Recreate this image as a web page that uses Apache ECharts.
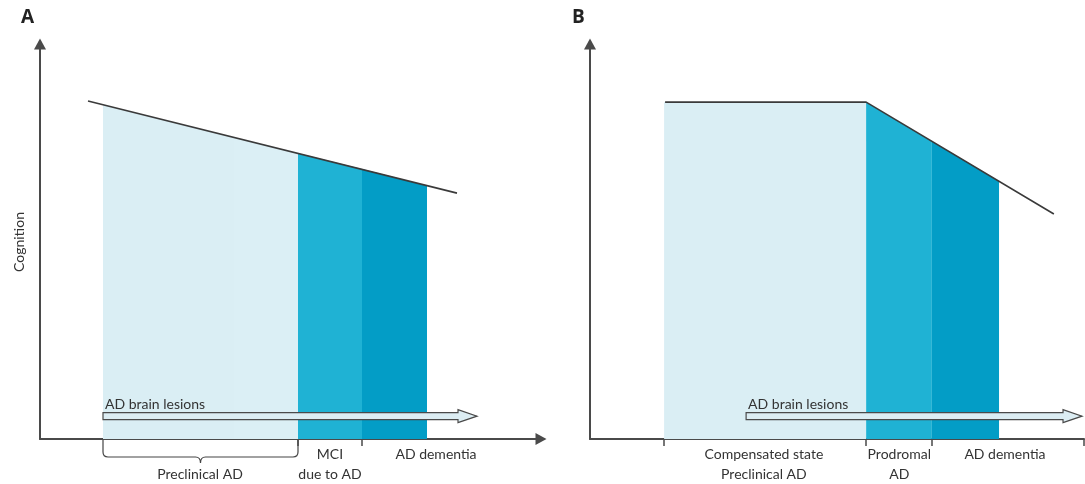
<!DOCTYPE html>
<html>
<head>
<meta charset="utf-8">
<script src="https://cdn.jsdelivr.net/npm/echarts@6/dist/echarts.min.js"></script>
<style>
html,body{margin:0;padding:0;background:#fff;}
#chart{width:1085px;height:484px;}
</style>
</head>
<body>
<div id="chart"></div>
<script>
// ---------- DATA (x: disease course 0-100, y: cognition 0-100) ----------
// Panel A
const aCognitionLine = [[9.6, 85.8], [83.4, 62.4]];
const aSegPreclin1 = [[12.6, 84.8], [38.8, 76.5]];
const aSegPreclin2 = [[38.8, 76.5], [51.6, 72.5]];
const aSegMCI = [[51.6, 72.5], [64.4, 68.5]];
const aSegDementia = [[64.4, 68.5], [77.4, 64.3]];
const aLesionArrow = [[12.6, 87.4, 5.8]];
const aBrace = [[12.6, 51.6]];
const aTicks = [51.6, 64.4];
const aLabelValues = [32, 58, 79.2];
const aLabelTexts = ['\nPreclinical AD', 'MCI\ndue to AD', 'AD dementia'];

// Panel B
const bCognitionLine = [[15.2, 85.5], [55.9, 85.5], [93.9, 57.1]];
const bSegCompensated = [[15.0, 85.5], [55.9, 85.5]];
const bSegProdromal = [[55.9, 85.5], [69.2, 75.6]];
const bSegDementia = [[69.2, 75.6], [82.8, 65.5]];
const bLesionArrow = [[31.6, 99.6, 5.8]];
const bTicks = [15.0, 55.9, 69.2, 100];
const bLabelValues = [35.2, 62.6, 84.0];
const bLabelTexts = ['Compensated state\nPreclinical AD', 'Prodromal\nAD', 'AD dementia'];

const lesionText = 'AD brain lesions';
const yAxisName = 'Cognition';

// ---------- STYLE ----------
const FONT = 'Lato';
const LIGHT = '#daeef4';
const LIGHT2 = '#dbeff5';
const MED = '#1fb2d4';
const DARK = '#039dc6';
const AXIS = '#4a4a4a';

const chart = echarts.init(document.getElementById('chart'), null, {renderer: 'canvas'});

function areaSeries(data, color, idx) {
  return {
    type: 'line', xAxisIndex: idx, yAxisIndex: idx, data: data,
    symbol: 'none', silent: true, z: 1,
    lineStyle: {width: 0, opacity: 0},
    areaStyle: {color: color, opacity: 1}
  };
}
function lineSeries(data, idx) {
  return {
    type: 'line', xAxisIndex: idx, yAxisIndex: idx, data: data,
    symbol: 'none', silent: true, z: 3,
    lineStyle: {color: '#3a3a3a', width: 1.6}
  };
}
function arrowSeries(data, idx) {
  return {
    type: 'custom', xAxisIndex: idx, yAxisIndex: idx, data: data, silent: true, z: 5,
    encode: {x: [0, 1], y: 2},
    renderItem: function (params, api) {
      const s = api.coord([api.value(0), api.value(2)]);
      const t = api.coord([api.value(1), api.value(2)]);
      const y = s[1], b = t[0] - 19, hs = 3.5, hh = 6.5;
      return {
        type: 'group',
        children: [
          {type: 'polygon',
           shape: {points: [[s[0], y - hs], [b, y - hs], [b, y - hh], [t[0], y], [b, y + hh], [b, y + hs], [s[0], y + hs]]},
           style: {fill: '#dcedf3', stroke: '#4a4a4a', lineWidth: 1.2}},
          {type: 'text',
           style: {text: lesionText, x: s[0] + 2, y: y - 12, align: 'left', verticalAlign: 'middle',
                   fontFamily: FONT, fontSize: 14, fill: '#333'}}
        ]
      };
    }
  };
}
function braceSeries(data, idx) {
  return {
    type: 'custom', xAxisIndex: idx, yAxisIndex: idx, data: data, silent: true, z: 5,
    encode: {x: [0, 1]},
    renderItem: function (params, api) {
      const p0 = api.coord([api.value(0), 0]);
      const p1 = api.coord([api.value(1), 0]);
      const ay = p0[1];
      const x0 = p0[0], x1 = p1[0], m = (x0 + x1) / 2;
      const h = ay + 18;
      const d = 'M' + x0 + ' ' + (ay + 1) + ' L' + x0 + ' ' + (ay + 13) +
        ' Q' + x0 + ' ' + h + ' ' + (x0 + 5) + ' ' + h +
        ' L' + (m - 5) + ' ' + h + ' Q' + m + ' ' + h + ' ' + m + ' ' + (ay + 24) +
        ' Q' + m + ' ' + h + ' ' + (m + 5) + ' ' + h +
        ' L' + (x1 - 5) + ' ' + h + ' Q' + x1 + ' ' + h + ' ' + x1 + ' ' + (ay + 13) +
        ' L' + x1 + ' ' + (ay + 1);
      return {type: 'path', shape: {pathData: d},
              style: {fill: 'none', stroke: '#444', lineWidth: 1.2}};
    }
  };
}
function xAxis(idx, ticks, labelVals, labelTexts, withArrow) {
  return {
    type: 'value', gridIndex: idx, min: 0, max: 100,
    splitLine: {show: false},
    axisLine: {show: true, onZero: false,
      lineStyle: {color: AXIS, width: 2},
      symbol: withArrow ? ['none', 'triangle'] : ['none', 'none'],
      symbolSize: [12, 11], symbolOffset: [0, 1]},
    axisTick: {show: true, customValues: ticks, length: 7, lineStyle: {color: AXIS, width: 1.5}},
    axisLabel: {show: true, customValues: labelVals, margin: 5,
      formatter: function (v) {
        const i = labelVals.indexOf(v);
        return i >= 0 ? labelTexts[i] : '';
      },
      fontFamily: FONT, fontSize: 14, lineHeight: 20, color: '#333', align: 'center'}
  };
}
function yAxis(idx, name) {
  return {
    type: 'value', gridIndex: idx, min: 0, max: 100,
    splitLine: {show: false},
    axisLine: {show: true, onZero: false,
      lineStyle: {color: AXIS, width: 2},
      symbol: ['none', 'triangle'], symbolSize: [12, 11], symbolOffset: [0, 1]},
    axisTick: {show: false},
    axisLabel: {show: false},
    name: name, nameLocation: 'middle', nameGap: 14, nameRotate: 90,
    nameTextStyle: {fontFamily: FONT, fontSize: 14, color: '#333'}
  };
}

const option = {
  backgroundColor: '#fff',
  animation: false,
  title: [
    {text: 'A', left: 16, top: 3, textStyle: {fontFamily: 'Open Sans', fontSize: 19, fontWeight: 'bold', color: '#222'}},
    {text: 'B', left: 567, top: 3, textStyle: {fontFamily: 'Open Sans', fontSize: 19, fontWeight: 'bold', color: '#222'}}
  ],
  grid: [
    {left: 40, top: 45, width: 500, height: 394},
    {left: 590, top: 45, width: 494, height: 394}
  ],
  xAxis: [
    xAxis(0, aTicks, aLabelValues, aLabelTexts, true),
    xAxis(1, bTicks, bLabelValues, bLabelTexts, false)
  ],
  yAxis: [yAxis(0, yAxisName), yAxis(1, '')],
  series: [
    areaSeries(aSegPreclin1, LIGHT, 0),
    areaSeries(aSegPreclin2, LIGHT2, 0),
    areaSeries(aSegMCI, MED, 0),
    areaSeries(aSegDementia, DARK, 0),
    lineSeries(aCognitionLine, 0),
    arrowSeries(aLesionArrow, 0),
    braceSeries(aBrace, 0),
    areaSeries(bSegCompensated, LIGHT, 1),
    areaSeries(bSegProdromal, MED, 1),
    areaSeries(bSegDementia, DARK, 1),
    lineSeries(bCognitionLine, 1),
    arrowSeries(bLesionArrow, 1)
  ]
};
chart.setOption(option);
</script>
</body>
</html>
